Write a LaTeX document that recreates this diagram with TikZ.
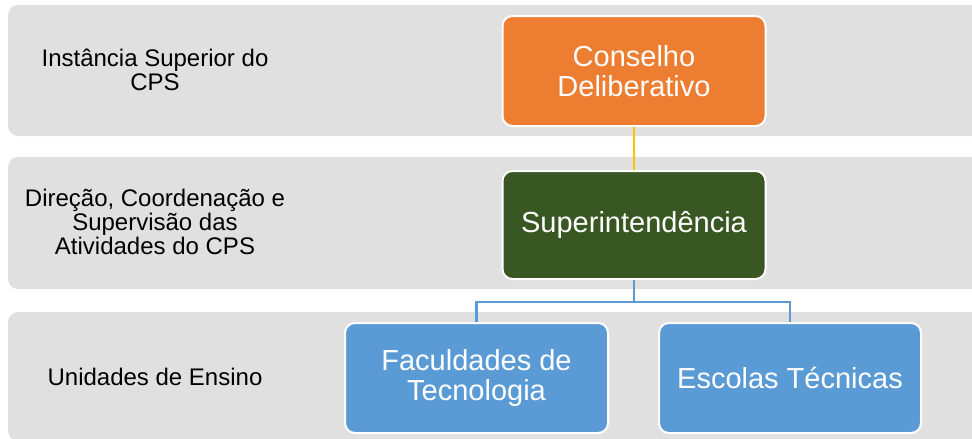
\documentclass[tikz,border=0pt]{standalone}
\usepackage{fontspec}
\setmainfont{Liberation Sans}
\definecolor{bandgray}{HTML}{E0E0E0}
\definecolor{orgorange}{HTML}{ED7D31}
\definecolor{orggreen}{HTML}{385723}
\definecolor{orgblue}{HTML}{5B9BD5}
\definecolor{orgyellow}{HTML}{FFC000}
\begin{document}
\begin{tikzpicture}[x=1pt,y=-1pt,
  band/.style={fill=bandgray, rounded corners=10pt},
  bandlabel/.style={align=center, text=black, inner sep=0pt,
    font=\fontsize{24pt}{24pt}\selectfont},
  orgbox/.style={draw=white, line width=2pt, rounded corners=10pt,
    minimum width=263pt, minimum height=110pt, align=center, text=white,
    inner sep=0pt, font=\fontsize{29pt}{30pt}\selectfont},
  yconn/.style={draw=orgyellow, line width=2.5pt},
  bconn/.style={draw=orgblue, line width=2.5pt}]
\useasboundingbox (0,0) rectangle (972,439);
\clip (0,0) rectangle (972,439);
% bands
\path[band] (8,5) rectangle (990,136);
\path[band] (8,157) rectangle (990,289);
\path[band] (8,312) rectangle (990,441);
% band labels
\node[bandlabel] (l1) at (155,70) {Instância Superior do\\CPS};
\node[bandlabel] (l2) at (155,222) {Direção, Coordenação e\\Supervisão das\\Atividades do CPS};
\node[bandlabel] (l3) at (155,377) {Unidades de Ensino};
% boxes
\node[orgbox, fill=orgorange, minimum height=110pt] (cons) at (634,71) {Conselho\\Deliberativo};
\node[orgbox, fill=orggreen, minimum height=108pt] (sup) at (634,225) {Superintendência};
\node[orgbox, fill=orgblue] (fac) at (476.5,378) {Faculdades de\\Tecnologia};
\node[orgbox, fill=orgblue, minimum width=262pt] (esc) at (790,378) {Escolas Técnicas};
% connectors
\coordinate (split) at (634,302);
\draw[yconn] (cons.south) -- (sup.north);
\draw[bconn] (sup.south) -- (split);
\draw[bconn] (split) -| (fac.north);
\draw[bconn] (split) -| (esc.north);
\end{tikzpicture}
\end{document}
